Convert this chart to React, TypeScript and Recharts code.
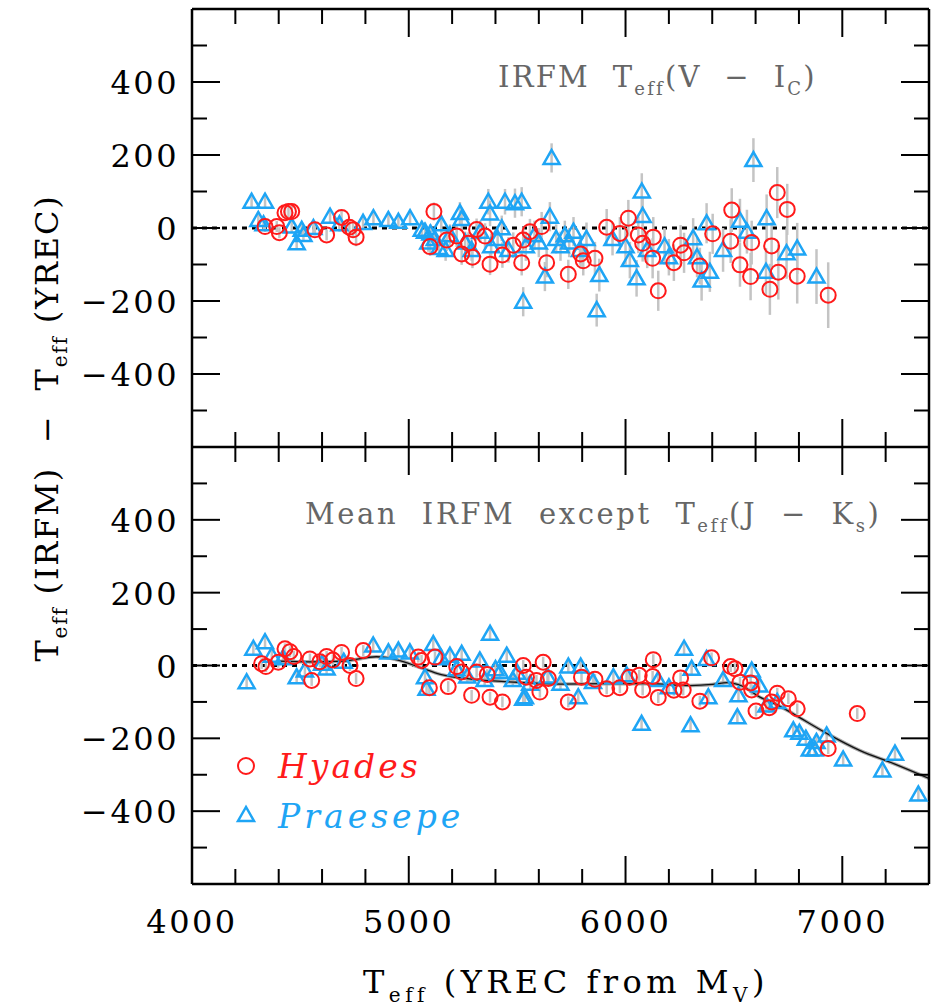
import {
  ComposedChart,
  Scatter,
  Line,
  XAxis,
  YAxis,
  ReferenceLine,
  ErrorBar,
} from 'recharts';

// [Teff(YREC), difference, error]
const HYADES_TOP = [
  [4337, 4, 15], [4391, 4, 15], [4403, -13, 15], [4429, 42, 15], [4445, 45, 15],
  [4460, 45, 15], [4567, -5, 15], [4621, -19, 15], [4690, 29, 20], [4726, 2, 20],
  [4743, -5, 20], [4757, -25, 25], [5098, -51, 25], [5116, 45, 25], [5175, -33, 30],
  [5221, -22, 30], [5244, -71, 30], [5275, -42, 30], [5294, -80, 30], [5313, -4, 30],
  [5352, -22, 35], [5375, -99, 30], [5432, -74, 35], [5482, -47, 35], [5521, -95, 35],
  [5528, -33, 35], [5559, -10, 35], [5613, 4, 40], [5636, -95, 40], [5736, -127, 40],
  [5793, -71, 40], [5805, -90, 40], [5859, -83, 45], [5913, 2, 50], [5974, -15, 45],
  [6013, 27, 50], [6059, -19, 50], [6079, -42, 50], [6125, -83, 55], [6128, -25, 55],
  [6151, -172, 55], [6223, -95, 50], [6254, -47, 55], [6270, -68, 55], [6343, -104, 50],
  [6402, -16, 55], [6485, -36, 60], [6490, 49, 60], [6528, -101, 60], [6577, -133, 65],
  [6582, -40, 60], [6666, -168, 70], [6674, -49, 65], [6700, 97, 70], [6705, -121, 75],
  [6746, 51, 70], [6792, -132, 75], [6935, -184, 90],
];

const PRAESEPE_TOP = [
  [4275, 72, 15], [4337, 72, 15], [4306, 22, 15], [4330, 10, 15], [4460, 4, 15],
  [4483, -42, 15], [4506, -5, 15], [4514, -19, 15], [4560, 0, 15], [4637, 31, 15],
  [4680, 10, 20], [4789, 14, 20], [4837, 27, 20], [4906, 22, 20], [4952, 17, 20],
  [5006, 27, 20], [5060, -5, 25], [5075, -10, 25], [5090, -40, 25], [5100, -15, 25],
  [5120, -30, 25], [5140, -55, 25], [5150, 10, 25], [5170, -60, 30], [5190, -20, 30],
  [5236, 41, 30], [5244, 25, 30], [5260, -40, 30], [5290, -60, 30], [5330, -10, 30],
  [5367, 72, 35], [5375, 40, 35], [5380, -50, 35], [5410, -30, 35], [5429, -1, 35],
  [5444, 72, 35], [5460, -60, 35], [5490, 68, 40], [5521, 72, 40], [5528, -202, 40],
  [5540, -50, 40], [5580, -20, 40], [5600, -40, 40], [5628, -133, 40], [5651, 31, 40],
  [5659, 192, 40], [5680, -30, 40], [5700, -50, 40], [5720, -20, 40], [5740, -40, 40],
  [5760, -10, 40], [5790, -60, 40], [5820, -30, 45], [5867, -225, 45], [5879, -129, 45],
  [5940, -30, 45], [6000, -50, 50], [6020, -88, 50], [6051, -138, 50], [6075, 100, 50],
  [6079, 33, 50], [6100, -60, 50], [6180, -50, 50], [6200, -80, 50], [6312, -28, 55],
  [6330, -80, 55], [6351, -144, 55], [6374, 13, 55], [6389, -120, 55], [6450, -60, 60],
  [6528, 20, 60], [6560, -10, 60], [6590, 186, 60], [6651, 27, 65], [6648, -120, 65],
  [6743, -69, 70], [6792, -56, 70], [6881, -133, 75],
];

// [Teff(YREC), difference]
const HYADES_BOTTOM = [
  [4321, 5], [4341, -3], [4398, 9], [4429, 46], [4452, 38], [4470, 25], [4544, 18],
  [4552, -41], [4590, 10], [4621, 25], [4650, 15], [4690, 36], [4729, 0], [4757, -36],
  [4790, 41], [5044, 23], [5059, 14], [5095, -61], [5121, 23], [5182, -58], [5221, -3],
  [5244, -18], [5290, -82], [5313, -18], [5362, -25], [5375, -87], [5432, -100],
  [5528, 0], [5543, -32], [5589, -41], [5605, -73], [5620, 9], [5644, -36], [5736, -100],
  [5797, -32], [5859, -38], [5913, -64], [5974, -61], [6018, -32], [6063, -27],
  [6079, -67], [6125, -30], [6128, 16], [6151, -88], [6223, -68], [6254, -34],
  [6266, -67], [6343, -98], [6397, 21], [6485, -3], [6505, -9], [6528, -46], [6577, -48],
  [6582, -67], [6602, -125], [6663, -116], [6674, -100], [6700, -76], [6751, -91],
  [6792, -119], [6935, -228], [7069, -132],
];

const PRAESEPE_BOTTOM = [
  [4252, -46], [4283, 46], [4337, 64], [4368, 27], [4420, 20], [4483, -32], [4521, -14],
  [4600, 5], [4621, -8], [4700, 10], [4836, 55], [4906, 36], [4952, 41], [5005, 36],
  [5075, -32], [5082, -64], [5113, 59], [5150, 20], [5190, 27], [5220, -10], [5244, 32],
  [5270, -30], [5328, 14], [5350, -40], [5375, 87], [5400, -10], [5421, -18], [5452, 27],
  [5480, -40], [5500, -20], [5528, -91], [5536, -87], [5560, -50], [5640, -30],
  [5700, -50], [5736, -3], [5782, -87], [5793, -3], [5850, -45], [5944, -32], [6005, -27],
  [6074, -160], [6150, -40], [6200, -60], [6270, 46], [6300, -164], [6305, -9],
  [6374, 18], [6382, -87], [6450, -40], [6516, -142], [6521, -82], [6582, -14],
  [6617, -55], [6650, -110], [6700, -100], [6774, -178], [6802, -185], [6832, -201],
  [6850, -231], [6873, -231], [6881, -210], [6928, -192], [7004, -258], [7185, -288],
  [7243, -242], [7351, -354],
];

const MEAN_CURVE = [
  [4400, 12], [4550, 10], [4700, 12], [4850, 24], [4950, 15], [5050, -5], [5150, -25],
  [5300, -38], [5500, -46], [5700, -51], [5900, -50], [6100, -50], [6300, -55],
  [6400, -52], [6470, -47], [6540, -57], [6620, -87], [6700, -108], [6780, -135],
  [6930, -187], [7080, -233], [7240, -270], [7400, -310],
];

const X_TICKS = [4000, 4200, 4400, 4600, 4800, 5000, 5200, 5400, 5600, 5800, 6000, 6200, 6400, 6600, 6800, 7000, 7200];
const Y_TICKS = [-500, -400, -300, -200, -100, 0, 100, 200, 300, 400, 500];

const RED = '#ff1a1a';
const BLUE = '#1ea5f5';
const GREY = '#c4c4c4';
const FONT = '"DejaVu Serif", serif';

const toPts = (rows: number[][], errDefault = 15) =>
  rows.map((r) => ({ x: r[0], y: r[1], err: r[2] ?? errDefault }));

const hyTop = toPts(HYADES_TOP);
const prTop = toPts(PRAESEPE_TOP);
const hyBot = toPts(HYADES_BOTTOM, 15);
const prBot = toPts(PRAESEPE_BOTTOM, 15);
const curve = MEAN_CURVE.map((r) => ({ x: r[0], y: r[1] }));

const Ring = (p: any) => (
  <circle cx={p.cx} cy={p.cy} r={7.5} fill="none" stroke={RED} strokeWidth={2} />
);

const Tri = (p: any) => (
  <polygon
    points={`${p.cx},${p.cy - 8} ${p.cx - 8},${p.cy + 6} ${p.cx + 8},${p.cy + 6}`}
    fill="none"
    stroke={BLUE}
    strokeWidth={2.5}
  />
);

function fmt(v: number) {
  return v < 0 ? `\u2212${Math.abs(v)}` : `${v}`;
}

function makeTick(side: 'left' | 'right' | 'top' | 'bottom', labels: boolean) {
  return (props: any) => {
    const { x, y, payload } = props;
    const v = Number(payload.value);
    const isY = side === 'left' || side === 'right';
    const major = isY ? v % 200 === 0 : v % 1000 === 0;
    const len = major ? 28 : 15;
    let x2 = x;
    let y2 = y;
    if (side === 'left') x2 = x + len;
    if (side === 'right') x2 = x - len;
    if (side === 'top') y2 = y + len;
    if (side === 'bottom') y2 = y - len;
    return (
      <g>
        <line x1={x} y1={y} x2={x2} y2={y2} stroke="#000" strokeWidth={2} />
        {labels && major && side === 'left' && (
          <text x={x - 13} y={y + 12} textAnchor="end" fontFamily={FONT} fontSize={32} letterSpacing={2.5} fill="#000">
            {fmt(v)}
          </text>
        )}
        {labels && major && side === 'bottom' && (
          <text x={x} y={y + 49} textAnchor="middle" fontFamily={FONT} fontSize={32} letterSpacing={2.5} fill="#000">
            {v}
          </text>
        )}
      </g>
    );
  };
}

const AXIS_LINE = { stroke: '#000', strokeWidth: 2.5 };

function axes(bottomLabels: boolean, bottomHeight: number) {
  return [
    <XAxis
      key="xb"
      xAxisId="b"
      dataKey="x"
      type="number"
      orientation="bottom"
      domain={[4000, 7400]}
      ticks={X_TICKS}
      interval={0}
      allowDataOverflow
      height={bottomHeight}
      tickLine={false}
      tickSize={0}
      tickMargin={0}
      axisLine={AXIS_LINE}
      tick={makeTick('bottom', bottomLabels)}
    />,
    <XAxis
      key="xt"
      xAxisId="t"
      dataKey="x"
      type="number"
      orientation="top"
      domain={[4000, 7400]}
      ticks={X_TICKS}
      interval={0}
      allowDataOverflow
      height={1}
      tickLine={false}
      tickSize={0}
      tickMargin={0}
      axisLine={AXIS_LINE}
      tick={makeTick('top', false)}
    />,
    <YAxis
      key="yl"
      yAxisId="l"
      dataKey="y"
      type="number"
      orientation="left"
      domain={[-600, 600]}
      ticks={Y_TICKS}
      interval={0}
      allowDataOverflow
      width={192}
      tickLine={false}
      tickSize={0}
      tickMargin={0}
      axisLine={AXIS_LINE}
      tick={makeTick('left', true)}
    />,
    <YAxis
      key="yr"
      yAxisId="r"
      dataKey="y"
      type="number"
      orientation="right"
      domain={[-600, 600]}
      ticks={Y_TICKS}
      interval={0}
      allowDataOverflow
      width={3}
      tickLine={false}
      tickSize={0}
      tickMargin={0}
      axisLine={AXIS_LINE}
      tick={makeTick('right', false)}
    />,
  ];
}

const zeroLine = (
  <ReferenceLine
    y={0}
    xAxisId="b"
    yAxisId="l"
    stroke="#000"
    strokeWidth={3}
    strokeDasharray="5 5"
  />
);

const PRE = { whiteSpace: 'pre' as const };

export default function App() {
  const sub = 18;
  return (
    <div style={{ position: 'absolute', left: 0, top: 0, width: 932, height: 1008, background: '#fff' }}>
      <div style={{ position: 'absolute', left: 0, top: 0 }}>
        <ComposedChart width={932} height={448} margin={{ top: 8, right: 0, bottom: 0, left: 0 }}>
          {axes(false, 1)}
          {zeroLine}
          <Scatter data={prTop} xAxisId="b" yAxisId="l" dataKey="y" shape={Tri} isAnimationActive={false}>
            <ErrorBar dataKey="err" direction="y" width={0} stroke={GREY} strokeWidth={2.5} />
          </Scatter>
          <Scatter data={hyTop} xAxisId="b" yAxisId="l" dataKey="y" shape={Ring} isAnimationActive={false}>
            <ErrorBar dataKey="err" direction="y" width={0} stroke={GREY} strokeWidth={2.5} />
          </Scatter>
        </ComposedChart>
      </div>
      <div style={{ position: 'absolute', left: 0, top: 446 }}>
        <ComposedChart width={932} height={562} margin={{ top: 0, right: 0, bottom: 0, left: 0 }}>
          {axes(true, 124)}
          {zeroLine}
          <Scatter data={prBot} xAxisId="b" yAxisId="l" dataKey="y" shape={Tri} isAnimationActive={false}>
            <ErrorBar dataKey="err" direction="y" width={0} stroke={GREY} strokeWidth={2.5} />
          </Scatter>
          <Scatter data={hyBot} xAxisId="b" yAxisId="l" dataKey="y" shape={Ring} isAnimationActive={false}>
            <ErrorBar dataKey="err" direction="y" width={0} stroke={GREY} strokeWidth={2.5} />
          </Scatter>
          <Line data={curve} xAxisId="b" yAxisId="l" dataKey="y" type="monotone" stroke="#a8a8a8" strokeWidth={3.5} dot={false} isAnimationActive={false} />
          <Line data={curve} xAxisId="b" yAxisId="l" dataKey="y" type="monotone" stroke="#111" strokeWidth={1.3} dot={false} isAnimationActive={false} />
        </ComposedChart>
      </div>
      <svg width={932} height={1008} style={{ position: 'absolute', left: 0, top: 0, pointerEvents: 'none' }}>
        <text x={498} y={87} fontFamily={FONT} fontSize={29} letterSpacing={2.2} fill="#666" style={PRE}>
          {'IRFM  T'}
          <tspan fontSize={sub} dy={8}>eff</tspan>
          <tspan dy={-8}>{'(V  \u2212  I'}</tspan>
          <tspan fontSize={sub} dy={8}>C</tspan>
          <tspan dy={-8}>)</tspan>
        </text>
        <text x={305} y={524} fontFamily={FONT} fontSize={29} letterSpacing={2.6} fill="#666" style={PRE}>
          {'Mean  IRFM  except  T'}
          <tspan fontSize={sub} dy={8}>eff</tspan>
          <tspan dy={-8}>{'(J  \u2212  K'}</tspan>
          <tspan fontSize={sub} dy={8}>s</tspan>
          <tspan dy={-8}>)</tspan>
        </text>
        <text x={363} y={993} fontFamily={FONT} fontSize={32} letterSpacing={4.5} fill="#000" style={PRE}>
          {'T'}
          <tspan fontSize={20} dy={9}>eff</tspan>
          <tspan dy={-9}>{' (YREC from M'}</tspan>
          <tspan fontSize={20} dy={9}>V</tspan>
          <tspan dy={-9}>)</tspan>
        </text>
        <text
          transform="translate(58, 428) rotate(-90)"
          textAnchor="middle"
          fontFamily={FONT}
          fontSize={32}
          letterSpacing={1.8}
          fill="#000"
          style={PRE}
        >
          {'T'}
          <tspan fontSize={20} dy={9}>eff</tspan>
          <tspan dy={-9}>{' (IRFM)  \u2212  T'}</tspan>
          <tspan fontSize={20} dy={9}>eff</tspan>
          <tspan dy={-9}>{' (YREC)'}</tspan>
        </text>
        <circle cx={246} cy={766} r={8} fill="none" stroke={RED} strokeWidth={2} />
        <text x={278} y={778} fontFamily={FONT} fontStyle="italic" fontSize={33} letterSpacing={3} fill={RED}>
          Hyades
        </text>
        <polygon points="246,807 238,821 254,821" fill="none" stroke={BLUE} strokeWidth={2.5} />
        <text x={278} y={828} fontFamily={FONT} fontStyle="italic" fontSize={33} letterSpacing={4} fill={BLUE}>
          Praesepe
        </text>
      </svg>
    </div>
  );
}
